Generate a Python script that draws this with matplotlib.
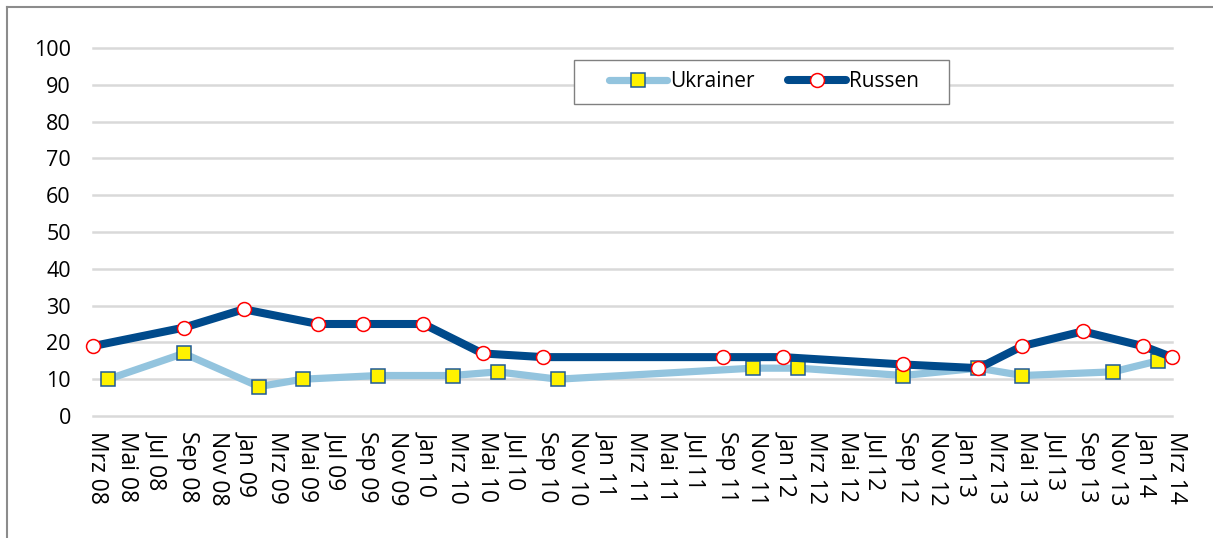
import pandas as pd
import numpy as np
import matplotlib
matplotlib.use('Agg')
import matplotlib.pyplot as plt
import matplotlib.dates as mdates
from matplotlib.lines import Line2D
from matplotlib.patches import Rectangle
from matplotlib.transforms import ScaledTranslation

plt.rcParams['font.family'] = ['Open Sans', 'DejaVu Sans']

# Daten
ukr_dates = ['2008-04', '2008-09', '2009-02', '2009-05', '2009-10', '2010-03', '2010-06', '2010-10',
             '2011-11', '2012-02', '2012-09', '2013-02', '2013-05', '2013-11', '2014-02']
ukr_values = [10, 17, 8, 10, 11, 11, 12, 10, 13, 13, 11, 13, 11, 12, 15]

rus_dates = ['2008-03', '2008-09', '2009-01', '2009-06', '2009-09', '2010-01', '2010-05', '2010-09',
             '2011-09', '2012-01', '2012-09', '2013-02', '2013-05', '2013-09', '2014-01', '2014-03']
rus_values = [19, 24, 29, 25, 25, 25, 17, 16, 16, 16, 14, 13, 19, 23, 19, 16]

monate = ['Jan', 'Feb', 'Mrz', 'Apr', 'Mai', 'Jun', 'Jul', 'Aug', 'Sep', 'Okt', 'Nov', 'Dez']
x_start, x_end = '2008-03-01', '2014-03-01'
y_ticks = np.arange(0, 101, 10)

W, H = 1213, 538
fig = plt.figure(figsize=(W / 100, H / 100), dpi=100)
ax = fig.add_axes([93 / W, 1 - 416 / H, 1079 / W, 368 / H])

ax.plot(pd.to_datetime(ukr_dates), ukr_values, color='#93C4DE', lw=5.2,
        solid_joinstyle='round', solid_capstyle='round',
        marker='s', ms=9.5, mfc='#FFF200', mec='#1F5A96', mew=1.1,
        label='Ukrainer', clip_on=False, zorder=3)
ax.plot(pd.to_datetime(rus_dates), rus_values, color='#004A8B', lw=5.8,
        solid_joinstyle='round', solid_capstyle='round',
        marker='o', ms=10, mfc='white', mec='#FF0000', mew=1.1,
        label='Russen', clip_on=False, zorder=4)

ax.set_xlim(pd.Timestamp(x_start), pd.Timestamp(x_end))
ax.set_ylim(0, 100)
ax.set_yticks(y_ticks)

ax.xaxis.set_major_locator(mdates.MonthLocator(bymonth=[1, 3, 5, 7, 9, 11]))
ax.xaxis.set_major_formatter(plt.FuncFormatter(
    lambda v, pos: '%s %s' % (monate[mdates.num2date(v).month - 1], mdates.num2date(v).strftime('%y'))))

ax.tick_params(axis='both', length=0, colors='#000000')
ax.tick_params(axis='y', pad=16, labelsize=15.5)
ax.tick_params(axis='x', pad=11, labelrotation=270, labelsize=16.5)
shift = ScaledTranslation(4 / 100, 0, fig.dpi_scale_trans)
for lab in ax.get_xticklabels():
    lab.set_transform(lab.get_transform() + shift)

for s in ax.spines.values():
    s.set_visible(False)
ax.yaxis.grid(True, color='#D9D9D9', lw=1.8)
ax.set_axisbelow(True)
for gl in ax.get_ygridlines():
    gl.set_clip_on(False)

# Legende mit Rahmen
fig.add_artist(Rectangle((574 / W, 1 - 104 / H), 375 / W, 44 / H, transform=fig.transFigure,
                         facecolor='white', edgecolor='#808080', lw=1.0, zorder=4))
fig.legend(loc='center', bbox_to_anchor=(764 / W, 1 - 82 / H), bbox_transform=fig.transFigure,
           ncol=2, frameon=False, fontsize=15, numpoints=1, handlelength=2.8,
           handletextpad=0.15, columnspacing=1.6)

# Rahmen um die Grafik
fig.add_artist(Line2D([7 / W, 7 / W], [-0.02, 1 - 7 / H], transform=fig.transFigure, color='#8C8C8C', lw=1.5))
fig.add_artist(Line2D([7 / W, 1.02], [1 - 7 / H, 1 - 7 / H], transform=fig.transFigure, color='#8C8C8C', lw=1.5))

fig.savefig('out.png', dpi=100)
